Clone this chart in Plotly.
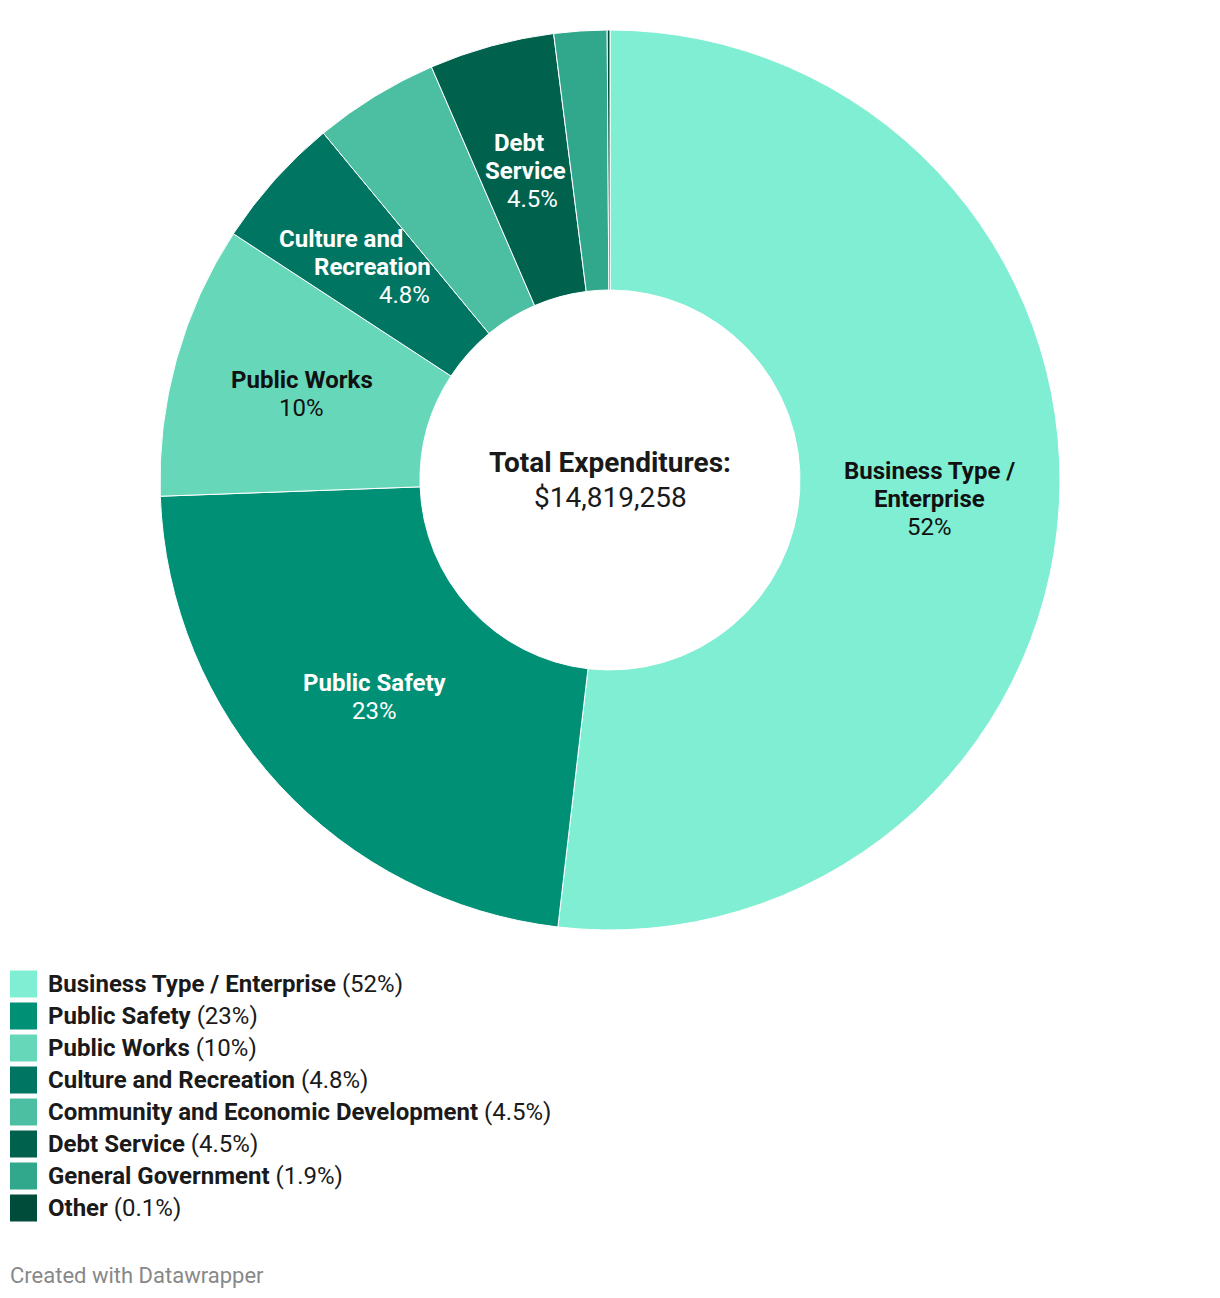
import math
import plotly.graph_objects as go

categories = ["Business Type / Enterprise", "Public Safety", "Public Works", "Culture and Recreation",
              "Community and Economic Development", "Debt Service", "General Government", "Other"]
values = [51.9, 22.6, 9.8, 4.8, 4.5, 4.5, 1.9, 0.1]
pct_labels = ["52%", "23%", "10%", "4.8%", "4.5%", "4.5%", "1.9%", "0.1%"]
colors = ["#80eed2", "#009075", "#66d8b9", "#007561", "#4cbfa2", "#00624c", "#31a78b", "#004c3b"]
total_label = "$14,819,258"

# slice label config: (name lines, text colour, per-line x shifts px)
slice_labels = {
    0: (["Business Type /", "Enterprise"], "#111111", [0, 0, 0]),
    1: (["Public Safety"], "#ffffff", [0, 0]),
    2: (["Public Works"], "#111111", [0, 0]),
    3: (["Culture and", "Recreation"], "#ffffff", [-30, 1, 33]),
    5: (["Debt", "Service"], "#ffffff", [-7, 0, 7]),
}

W, H = 1220, 1298
CX, CY, R_OUT, R_IN = 610, 480, 450, 190


def px(x):
    return x / W


def py(y):
    return 1 - y / H


FONT = "Roboto"
DARK = "#1a1a1a"
fig = go.Figure()
fig.add_trace(go.Pie(
    labels=categories, values=values, sort=False, direction="clockwise", rotation=0,
    hole=R_IN / R_OUT, marker=dict(colors=colors, line=dict(color="#ffffff", width=1)),
    textinfo="none", hoverinfo="skip", showlegend=False,
    domain=dict(x=[px(CX - R_OUT), px(CX + R_OUT)], y=[py(CY + R_OUT), py(CY - R_OUT)]),
))

annotations = []
total = sum(values)
cum = 0
r_lab = (R_OUT + R_IN) / 2
LH = 28
for i, v in enumerate(values):
    mid = (cum + v / 2) / total * 2 * math.pi
    cum += v
    if i not in slice_labels:
        continue
    names, col, shifts = slice_labels[i]
    lx = CX + r_lab * math.sin(mid)
    ly = CY - r_lab * math.cos(mid)
    lines = [("<b>%s</b>" % n) for n in names] + [pct_labels[i]]
    n = len(lines)
    for j, t in enumerate(lines):
        yy = ly + (j - (n - 1) / 2) * LH
        annotations.append(dict(x=px(lx), y=py(yy), xref="paper", yref="paper", text=t, showarrow=False,
                                xanchor="center", yanchor="middle", xshift=shifts[j],
                                font=dict(family=FONT, size=24, color=col)))

annotations.append(dict(x=px(CX), y=py(463), xref="paper", yref="paper", text="<b>Total Expenditures:</b>",
                        showarrow=False, xanchor="center", yanchor="middle",
                        font=dict(family=FONT, size=28, color=DARK)))
annotations.append(dict(x=px(CX), y=py(498), xref="paper", yref="paper", text=total_label,
                        showarrow=False, xanchor="center", yanchor="middle",
                        font=dict(family=FONT, size=28, color=DARK)))

shapes = []
for i, (c, p) in enumerate(zip(categories, pct_labels)):
    yc = 984 + i * 32
    shapes.append(dict(type="rect", xref="paper", yref="paper", x0=px(10), x1=px(37),
                       y0=py(yc + 13.5), y1=py(yc - 13.5), fillcolor=colors[i], line=dict(width=0)))
    annotations.append(dict(x=px(46), y=py(yc), xref="paper", yref="paper",
                            text="<b>%s</b> (%s)" % (c, p), showarrow=False, xanchor="left", yanchor="middle",
                            font=dict(family=FONT, size=24, color=DARK)))

annotations.append(dict(x=px(8), y=py(1275), xref="paper", yref="paper", text="Created with Datawrapper",
                        showarrow=False, xanchor="left", yanchor="middle",
                        font=dict(family=FONT, size=22, color="#888888")))

fig.update_layout(width=W, height=H, margin=dict(l=0, r=0, t=0, b=0), paper_bgcolor="#ffffff",
                  plot_bgcolor="#ffffff", annotations=annotations, shapes=shapes)
fig.write_html("out.html")
